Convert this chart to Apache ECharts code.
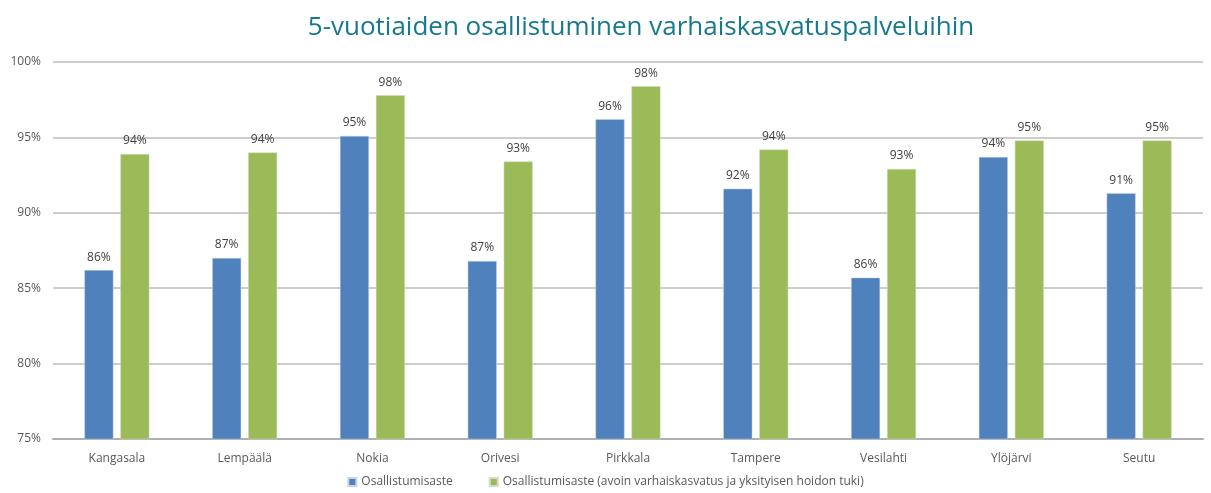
<!DOCTYPE html>
<html>
<head>
<meta charset="utf-8">
<script src="https://cdn.jsdelivr.net/npm/echarts@6/dist/echarts.min.js"></script>
<style>
html,body{margin:0;padding:0;background:#fff;}
#main{width:1211px;height:493px;}
</style>
</head>
<body>
<div id="main"></div>
<script>
// kunnat
var categories = ['Kangasala','Lempäälä','Nokia','Orivesi','Pirkkala','Tampere','Vesilahti','Ylöjärvi','Seutu'];
// osallistumisaste %
var osallistumisaste = [86.2, 87.0, 95.1, 86.8, 96.2, 91.6, 85.7, 93.7, 91.3];
// avoin varhaiskasvatus ja yksityisen hoidon tuki mukana
var osallistumisasteLaaja = [93.9, 94.0, 97.8, 93.4, 98.4, 94.2, 92.9, 94.8, 94.8];
var yTicks = [75, 80, 85, 90, 95, 100];

var seriesNames = ['Osallistumisaste','Osallistumisaste (avoin varhaiskasvatus ja yksityisen hoidon tuki)'];

var fontFam = '"Open Sans", "Noto Sans", sans-serif';

function paintChart(){
    var myChart = echarts.init(document.getElementById('main'));
    var labelStyle = {
        show: true,
        position: 'top',
        distance: 7,
        color: '#404040',
        fontSize: 12,
        fontFamily: fontFam,
        formatter: function(p){ return Math.round(p.value) + '%'; }
    };
    var option = {
        animation: false,
        title: {
            text: '5-vuotiaiden osallistuminen varhaiskasvatuspalveluihin',
            left: 636,
            top: 10,
            textAlign: 'center',
            textStyle: {
                color: '#17798c',
                fontSize: 26,
                fontWeight: 500,
                fontFamily: fontFam
            }
        },
        grid: {
            left: 53,
            right: 8,
            top: 62,
            bottom: 54
        },
        legend: {
            bottom: 0,
            left: 'center',
            itemWidth: 8,
            itemHeight: 8,
            itemGap: 36,
            icon: 'rect',
            textStyle: { color: '#595959', fontSize: 12, fontFamily: fontFam },
            data: seriesNames
        },
        xAxis: {
            type: 'category',
            data: categories,
            axisTick: { show: false },
            axisLine: { lineStyle: { color: '#b0b0b0', width: 2 } },
            axisLabel: { color: '#595959', fontSize: 12, margin: 14, fontFamily: fontFam }
        },
        yAxis: {
            type: 'value',
            min: yTicks[0],
            max: yTicks[yTicks.length - 1],
            interval: 5,
            axisLine: { show: false },
            axisTick: { show: false },
            splitLine: { lineStyle: { color: '#bcbcbc', width: 1.5 } },
            axisLabel: {
                color: '#595959',
                fontSize: 12,
                margin: 12,
                fontFamily: fontFam,
                formatter: '{value}%'
            }
        },
        series: [
            {
                name: seriesNames[0],
                type: 'bar',
                data: osallistumisaste,
                barWidth: 29,
                barGap: '24%',
                itemStyle: { color: '#4f81bd', borderColor: '#c8d3e2', borderWidth: 0.5 },
                label: labelStyle
            },
            {
                name: seriesNames[1],
                type: 'bar',
                data: osallistumisasteLaaja,
                barWidth: 29,
                barGap: '24%',
                itemStyle: { color: '#9bbb59', borderColor: '#d4ddc4', borderWidth: 0.5 },
                label: labelStyle
            }
        ]
    };
    myChart.setOption(option);
}

paintChart();
</script>
</body>
</html>
